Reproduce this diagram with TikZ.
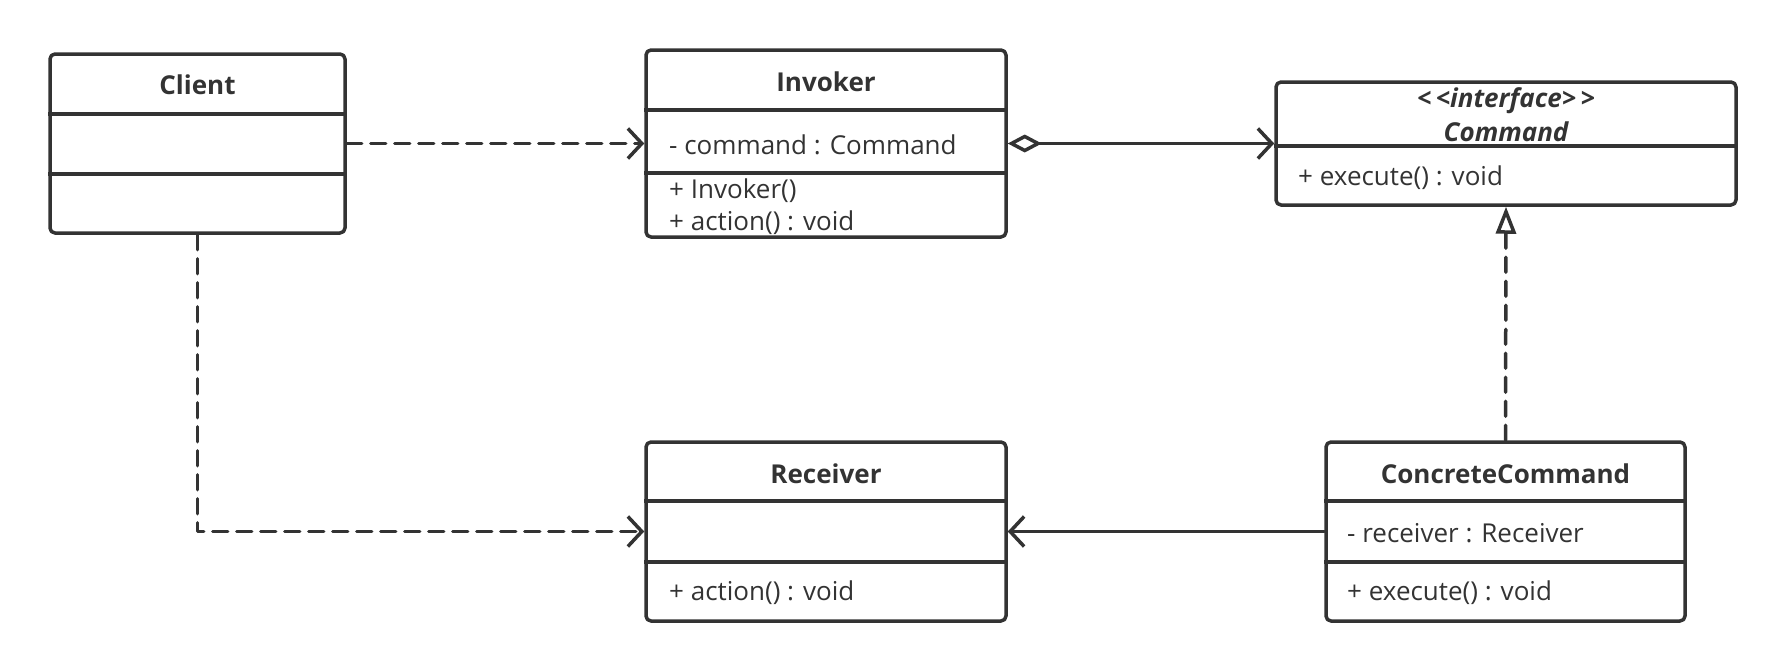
\documentclass[tikz,border=0pt]{standalone}
\usepackage{fontspec}
\setmainfont{Open Sans}
\usetikzlibrary{arrows.meta}
\definecolor{umlgray}{HTML}{333333}
\begin{document}
\begin{tikzpicture}[x=1pt,y=-1pt,line cap=round,line join=round,
		every node/.style={text=umlgray,font=\fontsize{26}{30}\selectfont},
		classbox/.style={draw=umlgray,line width=3.5pt,rounded corners=5pt,inner sep=0pt},
		classname/.style={font=\fontsize{26}{30}\selectfont\bfseries},
		member/.style={anchor=west,inner sep=0pt},
		link/.style={draw=umlgray,line width=3.5pt},
		dep/.style={link,dash pattern=on 15pt off 9pt},
		barb/.tip={Straight Barb[length=14pt,width=30pt,line width=3.5pt]}]
	\useasboundingbox (0,0) rectangle (1786,672);
	% classes
	\node[classbox,minimum width=295pt,minimum height=179pt] (client) at (197.5,143.5) {};
	\node[classbox,minimum width=360pt,minimum height=187pt] (invoker) at (826,143.5) {};
	\node[classbox,minimum width=460pt,minimum height=123pt] (command) at (1506,143.5) {};
	\node[classbox,minimum width=360pt,minimum height=179pt] (receiver) at (826,531.5) {};
	\node[classbox,minimum width=359pt,minimum height=179pt] (concrete) at (1505.5,531.5) {};
	% compartments
	\foreach \c/\y in {client/114,client/174,invoker/110,invoker/173,command/146,receiver/501,receiver/562,concrete/501,concrete/562}
		\draw[link,line cap=butt] (\c.west |- 0,\y) -- (\c.east |- 0,\y);
	% texts
	\node[classname] (clientname) at (197.5,85) {Client};
	\node[classname] (invokername) at (826,82) {Invoker};
	\node[member] (invattr) at (669,145) {- command : Command};
	\node[member] (invctor) at (669,191) {+ Invoker()};
	\node[member] (invop) at (669,223) {+ action() : void};
	\node[classname,font=\fontsize{26}{30}\selectfont\bfseries\itshape] (stereo) at (1506,101) {\mbox{<}\,\mbox{<}interface\mbox{>}\,\mbox{>}};
	\node[classname,font=\fontsize{26}{30}\selectfont\bfseries\itshape] (commandname) at (1506,132) {Command};
	\node[member] (cmdop) at (1298,178) {+ execute() : void};
	\node[classname] (receivername) at (826,474) {Receiver};
	\node[member] (recop) at (669,593) {+ action() : void};
	\node[classname] (concretename) at (1505.5,474) {ConcreteCommand};
	\node[member] (conattr) at (1347,533) {- receiver : Receiver};
	\node[member] (conop) at (1347,593) {+ execute() : void};
	% relations
	\draw[dep,-{barb}] (client.east) -- (invoker.west);
	\draw[link,{Diamond[open,length=34pt,width=18pt,line width=3.5pt]}-{barb}] (invoker.east) -- (command.west);
	\draw[dep,-{Triangle[open,length=27pt,width=20pt,line width=3.5pt]}] (concrete.north) -- (command.south);
	\draw[link,-{barb}] (concrete.west) -- (receiver.east);
	\draw[dep,-{barb}] (client.south) |- (receiver.west);
\end{tikzpicture}
\end{document}
